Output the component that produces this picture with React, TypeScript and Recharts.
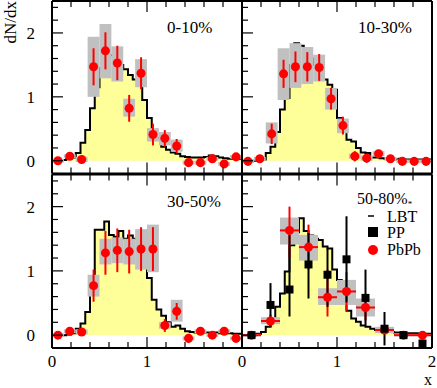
import React from "react";
import {
  ComposedChart,
  Area,
  Scatter,
  ErrorBar,
  ReferenceArea,
  XAxis,
  YAxis,
} from "recharts";

const W = 437;
const H = 388;
const FONT = "Liberation Serif, Times New Roman, serif";

// histogram bin edges (LBT), 0.05 wide
const binEdges = [
  0, 0.05, 0.1, 0.15, 0.2, 0.25, 0.3, 0.35, 0.4, 0.45, 0.5, 0.55, 0.6, 0.65,
  0.7, 0.75, 0.8, 0.85, 0.9, 0.95, 1, 1.05, 1.1, 1.15, 1.2, 1.25, 1.3, 1.35,
  1.4, 1.45, 1.5, 1.55, 1.6, 1.65, 1.7, 1.75, 1.8, 1.85, 1.9, 1.95, 2,
];

const xTicks = [0, 0.2, 0.4, 0.6, 0.8, 1, 1.2, 1.4, 1.6, 1.8, 2];
const yTicks = [-0.2, 0, 0.2, 0.4, 0.6, 0.8, 1, 1.2, 1.4, 1.6, 1.8, 2, 2.2, 2.4];

// LBT histograms
const lbt010 = [
  0, 0, 0.01, 0.03, 0.05, 0.12, 0.28, 0.48, 0.82, 1.15, 1.45, 1.6, 1.65, 1.6,
  1.5, 1.43, 1.34, 1.27, 1.19, 0.95, 0.67, 0.48, 0.35, 0.22, 0.17, 0.13, 0.11,
  0.07, 0.06, 0.05, 0.05, 0.05, 0.06, 0.08, 0.07, 0.05, 0.04, 0.03, 0.04, 0.03,
];
const lbt1030 = [
  0, 0, 0, 0, 0.02, 0.12, 0.22, 0.45, 0.8, 0.98, 1.5, 1.84, 1.8, 1.7, 1.6, 1.5,
  1.4, 1.27, 1.19, 1.11, 0.67, 0.48, 0.33, 0.3, 0.2, 0.13, 0.12, 0.05, 0.05,
  0.04, 0.03, 0.03, 0.02, 0.03, 0.02, 0.02, 0.02, 0.02, 0.02, 0.02,
];
const lbt3050 = [
  0, 0, 0, 0.01, 0.03, 0.1, 0.18, 0.36, 0.83, 1.64, 1.64, 1.77, 1.56, 1.53,
  1.62, 1.5, 1.55, 1.5, 1.45, 1.3, 0.89, 0.55, 0.4, 0.3, 0.2, 0.13, 0.15, 0.1,
  0.06, 0.05, 0.04, 0.04, 0.04, 0.03, 0.04, 0.03, 0.03, 0.03, 0.02, 0.02,
];
const lbt5080 = [
  0, 0, 0, 0.02, 0.05, 0.13, 0.23, 0.44, 0.65, 0.99, 1.4, 1.6, 1.82, 1.62,
  1.55, 1.5, 1.48, 1.38, 1.35, 1.02, 0.86, 0.62, 0.38, 0.26, 0.21, 0.15, 0.13,
  0.1, 0.08, 0.06, 0.05, 0.05, 0.04, 0.04, 0.03, 0.03, 0.03, 0.02, 0.02, 0.02,
];

// PbPb data, 16 bins (0-10, 10-30, 30-50)
const ptEdges = [
  0, 0.125, 0.25, 0.375, 0.5, 0.625, 0.75, 0.875, 1, 1.125, 1.25, 1.375, 1.5,
  1.625, 1.75, 1.875, 2,
];
const ptX = [
  0.0625, 0.1875, 0.3125, 0.4375, 0.5625, 0.6875, 0.8125, 0.9375, 1.0625,
  1.1875, 1.3125, 1.4375, 1.5625, 1.6875, 1.8125, 1.9375,
];

const y010 = [0, 0.07, 0.02, 1.47, 1.72, 1.53, 0.82, 1.37, 0.41, 0.35, 0.23, -0.03, -0.03, 0.03, -0.05, 0.06];
const err010 = [0.04, 0.05, 0.06, 0.29, 0.29, 0.27, 0.21, 0.25, 0.17, 0.13, 0.11, 0.06, 0.05, 0.04, 0.05, 0.05];
const sysLo010 = [-0.03, 0.04, -0.02, 1.0, 1.29, 1.24, 0.69, 1.15, 0.3, 0.24, 0.14, -0.06, -0.06, 0, -0.08, 0.03];
const sysHi010 = [0.03, 0.1, 0.06, 1.94, 2.14, 1.79, 0.97, 1.59, 0.51, 0.45, 0.33, 0, 0, 0.06, -0.02, 0.09];

const y1030 = [-0.01, 0.03, 0.42, 1.36, 1.47, 1.47, 1.46, 0.97, 0.55, 0.07, 0.04, 0.11, 0.03, -0.01, -0.01, -0.01];
const err1030 = [0.04, 0.04, 0.16, 0.22, 0.24, 0.23, 0.21, 0.17, 0.14, 0.08, 0.07, 0.06, 0.04, 0.03, 0.03, 0.03];
const sysLo1030 = [-0.04, 0, 0.27, 0.95, 1.14, 1.2, 1.24, 0.8, 0.43, 0.03, 0, 0.07, 0, -0.04, -0.04, -0.04];
const sysHi1030 = [0.02, 0.06, 0.6, 1.76, 1.84, 1.78, 1.66, 1.14, 0.66, 0.11, 0.08, 0.15, 0.06, 0.02, 0.02, 0.02];

const y3050 = [0, 0.06, 0.05, 0.77, 1.28, 1.32, 1.3, 1.34, 1.34, 0.15, 0.37, -0.05, 0.06, 0, 0.06, -0.05];
const err3050 = [0.04, 0.05, 0.06, 0.25, 0.34, 0.34, 0.34, 0.34, 0.34, 0.1, 0.13, 0.07, 0.06, 0.04, 0.05, 0.05];
const sysLo3050 = [-0.03, 0.03, 0.01, 0.6, 1.1, 1.12, 1.1, 1.02, 0.98, 0.1, 0.21, -0.08, 0.03, -0.03, 0.03, -0.08];
const sysHi3050 = [0.03, 0.09, 0.09, 0.94, 1.5, 1.52, 1.5, 1.65, 1.72, 0.2, 0.55, -0.02, 0.09, 0.03, 0.09, -0.02];

// 50-80%: 10 bins, PbPb and PP
const brEdges = [0, 0.2, 0.4, 0.6, 0.8, 1, 1.2, 1.4, 1.6, 1.8, 2];
const brX = [0.1, 0.3, 0.5, 0.7, 0.9, 1.1, 1.3, 1.5, 1.7, 1.9];
const brXErr = [0.1, 0.1, 0.1, 0.1, 0.1, 0.1, 0.1, 0.1, 0.1, 0.1];
const y5080 = [0, 0.22, 1.63, 1.37, 0.59, 0.68, 0.43, 0.08, 0, 0];
const err5080 = [[0.03, 0.03], [0.1, 0.1], [0.43, 0.37], [0.35, 0.35], [0.3, 0.43], [0.3, 0.3], [0.2, 0.2], [0.05, 0.05], [0.03, 0.03], [0.03, 0.03]];
const sysLo5080 = [-0.02, 0.17, 1.41, 1.16, 0.47, 0.47, 0.29, 0.03, -0.02, -0.02];
const sysHi5080 = [0.02, 0.28, 1.83, 1.56, 0.73, 0.86, 0.57, 0.13, 0.02, 0.02];
const ppY = [0, 0.47, 0.71, 1.1, 0.94, 1.18, 0.58, 0.1, 0, -0.13];
const ppErr = [[0.03, 0.03], [0.34, 0.34], [0.42, 0.85], [0.53, 0.49], [0.5, 0.41], [0.67, 0.67], [0.42, 0.44], [0.26, 0.26], [0.05, 0.05], [0.05, 0.05]];

const histRows = (vals: number[]) =>
  binEdges.map((x, i) => ({ x, y: vals[Math.min(i, vals.length - 1)] }));

const pointRows = (xs: number[], ys: number[], errs: any[], xerrs?: number[]) =>
  xs.map((x, i) => ({ x, y: ys[i], err: errs[i], xerr: xerrs ? xerrs[i] : 0 }));

const boxRows = (edges: number[], lo: number[], hi: number[]) =>
  lo.map((l, i) => ({ x1: edges[i], x2: edges[i + 1], y1: l, y2: hi[i] }));

type Side = "left" | "right" | "top" | "bottom";

const txtStyle = { fontFamily: FONT, fontSize: 17, fill: "#000" };
const legStyle = { fontFamily: FONT, fontSize: 16, fill: "#000" };

const makeTick = (side: Side, labels: number[]) => (props: any) => {
  const { x, y, payload } = props;
  const v = Number(payload.value);
  const major = Math.abs(v - Math.round(v)) < 1e-6;
  const len = major ? 11 : 6;
  const show = major && labels.includes(Math.round(v));
  if (side === "bottom")
    return (
      <g>
        <line x1={x} x2={x} y1={y} y2={y - len} stroke="#000" strokeWidth={1.2} />
        {show && <text x={x} y={y + 19} textAnchor="middle" style={txtStyle}>{Math.round(v)}</text>}
      </g>
    );
  if (side === "top")
    return <line x1={x} x2={x} y1={y} y2={y + len} stroke="#000" strokeWidth={1.2} />;
  if (side === "left")
    return (
      <g>
        <line x1={x} x2={x + len} y1={y} y2={y} stroke="#000" strokeWidth={1.2} />
        {show && <text x={x - 17} y={y + 6} textAnchor="end" style={txtStyle}>{Math.round(v)}</text>}
      </g>
    );
  return <line x1={x} x2={x - len} y1={y} y2={y} stroke="#000" strokeWidth={1.2} />;
};

const axisLine = { stroke: "#000", strokeWidth: 2 };

type PanelProps = {
  frame: { left: number; right: number; top: number; bottom: number };
  hist: number[];
  boxes: { x1: number; x2: number; y1: number; y2: number }[];
  red: any[];
  pp?: any[];
  xLabels: number[];
  yLabels: number[];
  xErr?: boolean;
};

function Panel({ frame, hist, boxes, red, pp, xLabels, yLabels, xErr }: PanelProps) {
  // every axis takes 1px, so the margins sit 1px outside the frame
  const margin = {
    top: frame.top - 1,
    left: frame.left - 1,
    right: W - frame.right - 1,
    bottom: H - frame.bottom - 1,
  };
  return (
    <div style={{ position: "absolute", left: 0, top: 0 }}>
      <ComposedChart width={W} height={H} data={histRows(hist)} margin={margin}>
        <XAxis
          dataKey="x"
          type="number"
          domain={[0, 2]}
          ticks={xTicks}
          interval={0}
          height={1}
          tickSize={0}
          tickMargin={0}
          tickLine={false}
          axisLine={axisLine}
          tick={makeTick("bottom", xLabels)}
        />
        <XAxis
          xAxisId="top"
          orientation="top"
          dataKey="x"
          type="number"
          domain={[0, 2]}
          ticks={xTicks}
          interval={0}
          height={1}
          tickSize={0}
          tickMargin={0}
          tickLine={false}
          axisLine={axisLine}
          tick={makeTick("top", [])}
        />
        <YAxis
          type="number"
          domain={[-0.2, 2.5]}
          ticks={yTicks}
          interval={0}
          width={1}
          tickSize={0}
          tickMargin={0}
          tickLine={false}
          axisLine={axisLine}
          tick={makeTick("left", yLabels)}
        />
        <YAxis
          yAxisId="right"
          orientation="right"
          type="number"
          domain={[-0.2, 2.5]}
          ticks={yTicks}
          interval={0}
          width={1}
          tickSize={0}
          tickMargin={0}
          tickLine={false}
          axisLine={axisLine}
          tick={makeTick("right", [])}
        />
        <Area
          type="stepAfter"
          dataKey="y"
          fill="#ffff99"
          fillOpacity={1}
          stroke="#000"
          strokeWidth={2}
          dot={false}
          activeDot={false}
          isAnimationActive={false}
        />
        {boxes.map((b, i) => (
          <ReferenceArea
            key={i}
            x1={b.x1}
            x2={b.x2}
            y1={b.y1}
            y2={b.y2}
            fill="#c0c0c0"
            fillOpacity={1}
            stroke="none"
          />
        ))}
        <Scatter data={red} dataKey="y" fill="#ff0000" isAnimationActive={false}>
          <ErrorBar dataKey="err" direction="y" width={0} stroke="#ff0000" strokeWidth={2} />
          {xErr && (
            <ErrorBar dataKey="xerr" direction="x" width={0} stroke="#ff0000" strokeWidth={2} />
          )}
        </Scatter>
        {pp && (
          <Scatter data={pp} dataKey="y" shape="square" fill="#000" isAnimationActive={false}>
            <ErrorBar dataKey="err" direction="y" width={0} stroke="#000" strokeWidth={2} />
          </Scatter>
        )}
      </ComposedChart>
    </div>
  );
}

const TOP = { top: 1, bottom: 173.5 };
const BOT = { top: 174.5, bottom: 348 };
const LEFT = { left: 52, right: 242 };
const RIGHT = { left: 242, right: 432 };

export default function App() {
  return (
    <div style={{ position: "absolute", left: 0, top: 0, width: W, height: H, background: "#fff" }}>
      <Panel
        frame={{ ...TOP, ...LEFT }}
        hist={lbt010}
        boxes={boxRows(ptEdges, sysLo010, sysHi010)}
        red={pointRows(ptX, y010, err010)}
        xLabels={[]}
        yLabels={[0, 1, 2]}
      />
      <Panel
        frame={{ ...TOP, ...RIGHT }}
        hist={lbt1030}
        boxes={boxRows(ptEdges, sysLo1030, sysHi1030)}
        red={pointRows(ptX, y1030, err1030)}
        xLabels={[]}
        yLabels={[]}
      />
      <Panel
        frame={{ ...BOT, ...LEFT }}
        hist={lbt3050}
        boxes={boxRows(ptEdges, sysLo3050, sysHi3050)}
        red={pointRows(ptX, y3050, err3050)}
        xLabels={[0, 1]}
        yLabels={[0, 1, 2]}
      />
      <Panel
        frame={{ ...BOT, ...RIGHT }}
        hist={lbt5080}
        boxes={boxRows(brEdges, sysLo5080, sysHi5080)}
        red={pointRows(brX, y5080, err5080, brXErr)}
        pp={pointRows(brX, ppY, ppErr)}
        xLabels={[0, 1, 2]}
        yLabels={[]}
        xErr
      />
      <svg
        width={W}
        height={H}
        style={{ position: "absolute", left: 0, top: 0, pointerEvents: "none" }}
      >
        <text transform="translate(16,1) rotate(-90)" textAnchor="end" style={txtStyle}>dN/dx</text>
        <text x={432} y={385} textAnchor="end" style={legStyle}>x</text>
        <text x={167} y={33} style={txtStyle}>0-10%</text>
        <text x={358} y={33} style={txtStyle}>10-30%</text>
        <text x={167} y={207} style={txtStyle}>30-50%</text>
        <text x={357} y={204} style={legStyle}>
          50-80%<tspan fontSize={9} dy={3}>*</tspan>
        </text>
        <line x1={368} x2={374} y1={216} y2={216} stroke="#000" strokeWidth={1.5} />
        <text x={387} y={222} style={legStyle}>LBT</text>
        <rect x={368} y={227} width={10} height={10} fill="#000" />
        <text x={387} y={238} style={legStyle}>PP</text>
        <circle cx={373} cy={250} r={5} fill="#ff0000" />
        <text x={387} y={255} style={legStyle}>PbPb</text>
      </svg>
    </div>
  );
}
